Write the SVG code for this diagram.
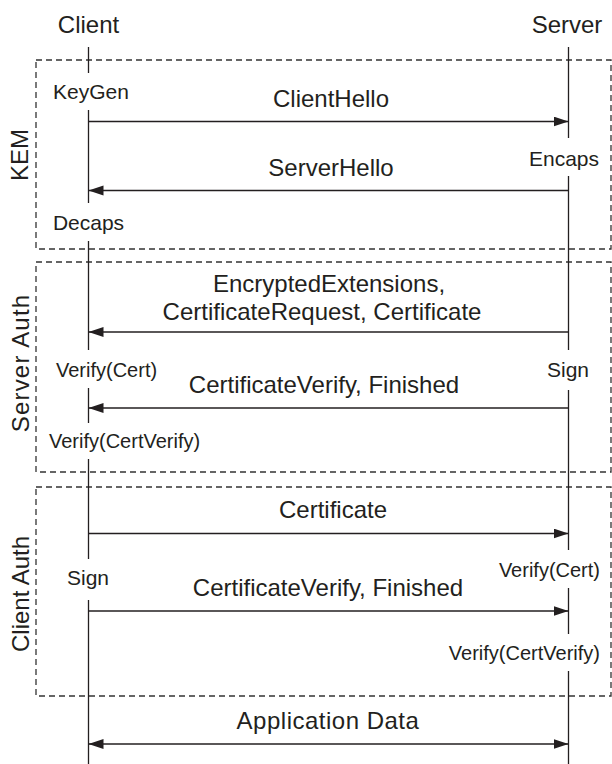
<svg xmlns="http://www.w3.org/2000/svg" width="612" height="764" viewBox="0 0 612 764">
  <defs>
    <style>
      text { font-family: "Liberation Sans", Arial, Helvetica, sans-serif; fill: #231f20; }
      .big { font-size: 24px; }
      .small { font-size: 21px; }
      .ver { font-size: 20px; }
      .mid { text-anchor: middle; }
      .end { text-anchor: end; }
      .box { fill: none; stroke: #333; stroke-width: 1.3; stroke-dasharray: 6 4; }
      .life { stroke: #231f20; stroke-width: 1.3; fill: none; }
      .msg { stroke: #231f20; stroke-width: 1.3; fill: none; }
    </style>
    <marker id="ah" markerUnits="userSpaceOnUse" markerWidth="16" markerHeight="12" refX="15" refY="5" orient="auto-start-reverse">
      <path d="M0,0 L15,5 L0,10 Z" fill="#231f20"/>
    </marker>
  </defs>

  <g id="phases">
    <g id="kem">
      <rect class="box" x="36" y="60" width="575" height="189"/>
      <text class="big mid" transform="translate(28,155) rotate(-90)">KEM</text>
    </g>
    <g id="server-auth">
      <rect class="box" x="36" y="262" width="575" height="210"/>
      <text class="big mid" transform="translate(29,363) rotate(-90)" letter-spacing="1.2">Server Auth</text>
    </g>
    <g id="client-auth">
      <rect class="box" x="36" y="487" width="575" height="209"/>
      <text class="big mid" transform="translate(29,594) rotate(-90)">Client Auth</text>
    </g>
  </g>

  <g id="client">
    <text class="big mid" x="88.5" y="33">Client</text>
    <path class="life" d="M88.5,47 V73 M88.5,110 V203 M88.5,241 V350 M88.5,388 V423 M88.5,459 V559 M88.5,600 V764"/>
    <text class="small mid" x="91" y="99">KeyGen</text>
    <text class="small mid" x="88.5" y="230">Decaps</text>
    <text class="ver" x="56" y="377">Verify(Cert)</text>
    <text class="ver" x="49" y="448">Verify(CertVerify)</text>
    <text class="small mid" x="88" y="585">Sign</text>
  </g>

  <g id="server">
    <text class="big mid" x="567" y="33">Server</text>
    <path class="life" d="M568.5,47 V138 M568.5,176 V350 M568.5,390 V550 M568.5,588 V634 M568.5,671 V764"/>
    <text class="small mid" x="564" y="166">Encaps</text>
    <text class="small mid" x="568" y="377">Sign</text>
    <text class="ver end" x="600" y="577">Verify(Cert)</text>
    <text class="ver end" x="600" y="660">Verify(CertVerify)</text>
  </g>

  <g id="connectors">
    <line class="msg" x1="88.5" y1="121.5" x2="568.5" y2="121.5" marker-end="url(#ah)"/>
    <text class="big mid" x="331" y="107">ClientHello</text>

    <line class="msg" x1="568.5" y1="190.5" x2="88.5" y2="190.5" marker-end="url(#ah)"/>
    <text class="big mid" x="331" y="176">ServerHello</text>

    <line class="msg" x1="568.5" y1="332" x2="88.5" y2="332" marker-end="url(#ah)"/>
    <text class="big mid" x="329" y="292">EncryptedExtensions,</text>
    <text class="big mid" x="322" y="320">CertificateRequest, Certificate</text>

    <line class="msg" x1="568.5" y1="408" x2="88.5" y2="408" marker-end="url(#ah)"/>
    <text class="big mid" x="324" y="393">CertificateVerify, Finished</text>

    <line class="msg" x1="88.5" y1="533.5" x2="568.5" y2="533.5" marker-end="url(#ah)"/>
    <text class="big mid" x="333" y="518">Certificate</text>

    <line class="msg" x1="88.5" y1="611" x2="568.5" y2="611" marker-end="url(#ah)"/>
    <text class="big mid" x="328" y="596">CertificateVerify, Finished</text>

    <line class="msg" x1="88.5" y1="744" x2="568.5" y2="744" marker-start="url(#ah)" marker-end="url(#ah)"/>
    <text class="big mid" x="328" y="729" letter-spacing="0.5">Application Data</text>
  </g>
</svg>
